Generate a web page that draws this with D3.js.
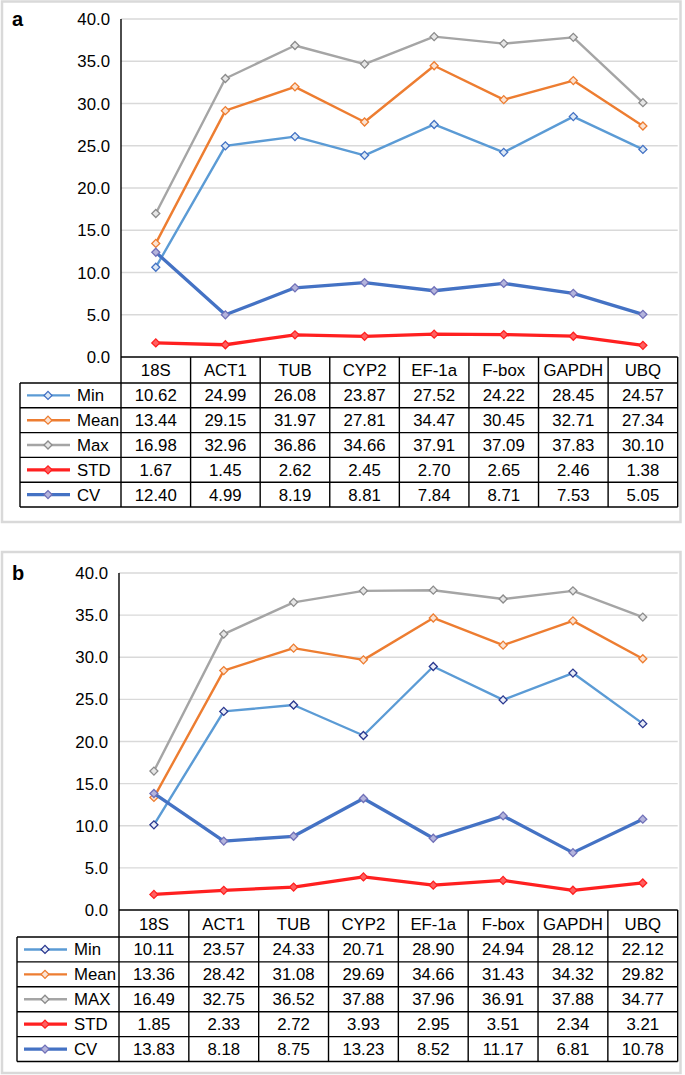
<!DOCTYPE html>
<html>
<head>
<meta charset="utf-8">
<script src="https://cdn.jsdelivr.net/npm/d3@7"></script>
<style>
  body { margin: 0; background: #fff; }
  svg text { font-family: "Liberation Sans", Arial, sans-serif; fill: #000; }
</style>
</head>
<body>
<div id="chart"></div>
<script>
"use strict";

const genes = ["18S", "ACT1", "TUB", "CYP2", "EF-1a", "F-box", "GAPDH", "UBQ"];
const yTicks = [0, 5, 10, 15, 20, 25, 30, 35, 40];

// panel a
const namesA = ["Min", "Mean", "Max", "STD", "CV"];
const minA = [10.62, 24.99, 26.08, 23.87, 27.52, 24.22, 28.45, 24.57];
const meanA = [13.44, 29.15, 31.97, 27.81, 34.47, 30.45, 32.71, 27.34];
const maxA = [16.98, 32.96, 36.86, 34.66, 37.91, 37.09, 37.83, 30.1];
const stdA = [1.67, 1.45, 2.62, 2.45, 2.7, 2.65, 2.46, 1.38];
const cvA = [12.4, 4.99, 8.19, 8.81, 7.84, 8.71, 7.53, 5.05];

// panel b
const namesB = ["Min", "Mean", "MAX", "STD", "CV"];
const minB = [10.11, 23.57, 24.33, 20.71, 28.9, 24.94, 28.12, 22.12];
const meanB = [13.36, 28.42, 31.08, 29.69, 34.66, 31.43, 34.32, 29.82];
const maxB = [16.49, 32.75, 36.52, 37.88, 37.96, 36.91, 37.88, 34.77];
const stdB = [1.85, 2.33, 2.72, 3.93, 2.95, 3.51, 2.34, 3.21];
const cvB = [13.83, 8.18, 8.75, 13.23, 8.52, 11.17, 6.81, 10.78];

const W = 685, H = 1075;
const svg = d3.select("#chart").append("svg").attr("width", W).attr("height", H);

// line style per series (same order as names)
const styles = [
  { color: "#5B9BD5", width: 2.4, mk: "#4472C4", fill: "#DCE8F5" },
  { color: "#ED7D31", width: 2.4, mk: "#ED7D31", fill: "#FBE3D3" },
  { color: "#A5A5A5", width: 2.4, mk: "#8C8C8C", fill: "#E6E6E6" },
  { color: "#FF2020", width: 3.3, mk: "#FF2020", fill: "#FF6060" },
  { color: "#4472C4", width: 3.3, mk: "#7171B8", fill: "#B4B4DC" }
];

const diamond = d3.symbol().type(d3.symbolSquare).size(32);
const FS = "16.8px";

const drawPanel = (p) => {
  const g = svg.append("g");

  g.append("rect")
    .attr("x", p.box[0]).attr("y", p.box[1])
    .attr("width", p.box[2]).attr("height", p.box[3])
    .attr("fill", "none").attr("stroke", "#D9D9D9").attr("stroke-width", 2.5);

  g.append("text")
    .attr("x", p.box[0] + 10).attr("y", p.top + 7)
    .style("font-weight", "bold").style("font-size", "20px")
    .text(p.label);

  const x = d3.scaleBand().domain(genes).range([p.left, p.right]);
  const y = d3.scaleLinear().domain([0, 40]).range([p.bottom, p.top]);

  // gridlines
  g.selectAll(".grid")
    .data(yTicks.filter((t) => t > 0))
    .enter()
    .append("line")
    .attr("x1", p.left).attr("x2", p.right)
    .attr("y1", (d) => y(d)).attr("y2", (d) => y(d))
    .attr("stroke", "#D9D9D9").attr("stroke-width", 1.3);

  // y tick labels
  g.selectAll(".ylab")
    .data(yTicks)
    .enter()
    .append("text")
    .attr("x", p.left - 11)
    .attr("y", (d) => y(d) + 6)
    .attr("text-anchor", "end")
    .style("font-size", FS)
    .text((d) => d.toFixed(1));

  // series lines + markers
  p.series.forEach((vals, k) => {
    const st = styles[k];
    const line = d3.line().x((d, i) => x(genes[i]) + x.bandwidth() / 2).y((d) => y(d));
    g.append("path")
      .datum(vals)
      .attr("d", line)
      .attr("fill", "none")
      .attr("stroke", st.color)
      .attr("stroke-width", st.width)
      .attr("stroke-linejoin", "round");
    g.selectAll(".mk" + k)
      .data(vals)
      .enter()
      .append("path")
      .attr("d", diamond)
      .attr("transform", (d, i) => `translate(${x(genes[i]) + x.bandwidth() / 2},${y(d)}) rotate(45)`)
      .attr("fill", k === 0 ? p.minFill : st.fill)
      .attr("stroke", k === 0 ? p.minMk : st.mk)
      .attr("stroke-width", 1.3);
  });

  // data table
  const rowH = p.rowH;
  const headTop = p.bottom;
  const headBot = p.bottom + p.headH;
  const tabBot = headBot + rowH * p.series.length;
  const tl = g.append("g").attr("stroke", "#000").attr("stroke-width", 1.4);

  // y axis line down through the table
  tl.append("line").attr("x1", p.left).attr("x2", p.left).attr("y1", p.top).attr("y2", tabBot);
  // horizontal lines
  tl.append("line").attr("x1", p.left).attr("x2", p.right).attr("y1", headTop).attr("y2", headTop);
  const hLines = d3.range(p.series.length + 1).map((i) => headBot + i * rowH);
  tl.selectAll(".hl")
    .data(hLines)
    .enter()
    .append("line")
    .attr("x1", p.tableLeft).attr("x2", p.right)
    .attr("y1", (d) => d).attr("y2", (d) => d);
  tl.append("line").attr("x1", p.tableLeft).attr("x2", p.tableLeft).attr("y1", headBot).attr("y2", tabBot);
  // vertical column lines
  tl.selectAll(".vl")
    .data(genes)
    .enter()
    .append("line")
    .attr("x1", (d) => x(d) + x.bandwidth()).attr("x2", (d) => x(d) + x.bandwidth())
    .attr("y1", headTop).attr("y2", tabBot);

  // header text
  g.selectAll(".hd")
    .data(genes)
    .enter()
    .append("text")
    .attr("x", (d) => x(d) + x.bandwidth() / 2)
    .attr("y", headTop + p.headH / 2 + 6)
    .attr("text-anchor", "middle")
    .style("font-size", FS)
    .text((d) => d);

  // rows
  p.series.forEach((vals, k) => {
    const cy = headBot + rowH * k + rowH / 2;
    const st = styles[k];
    g.selectAll(".cell" + k)
      .data(vals)
      .enter()
      .append("text")
      .attr("x", (d, i) => x(genes[i]) + x.bandwidth() / 2)
      .attr("y", cy + 6)
      .attr("text-anchor", "middle")
      .style("font-size", FS)
      .text((d) => d.toFixed(2));

    // legend key
    const lx = p.tableLeft;
    g.append("line")
      .attr("x1", lx + 7).attr("x2", lx + 50)
      .attr("y1", cy).attr("y2", cy)
      .attr("stroke", st.color).attr("stroke-width", st.width);
    g.append("path")
      .attr("d", diamond)
      .attr("transform", `translate(${lx + 28},${cy}) rotate(45)`)
      .attr("fill", k === 0 ? p.minFill : st.fill)
      .attr("stroke", k === 0 ? p.minMk : st.mk)
      .attr("stroke-width", 1.3);
    g.append("text")
      .attr("x", lx + 57).attr("y", cy + 6)
      .style("font-size", FS)
      .text(p.names[k]);
  });
};

drawPanel({
  label: "a",
  box: [2, 1.5, 678.5, 520.5],
  left: 121, right: 677.7, top: 19, bottom: 357,
  headH: 26, rowH: 24.8, tableLeft: 20,
  names: namesA,
  series: [minA, meanA, maxA, stdA, cvA],
  minMk: "#4472C4", minFill: "#DCE8F5"
});

drawPanel({
  label: "b",
  box: [2, 552, 678.5, 521],
  left: 119, right: 677.7, top: 573, bottom: 910,
  headH: 27, rowH: 24.9, tableLeft: 17,
  names: namesB,
  series: [minB, meanB, maxB, stdB, cvB],
  minMk: "#2B3990", minFill: "#E8ECF7"
});
</script>
</body>
</html>
